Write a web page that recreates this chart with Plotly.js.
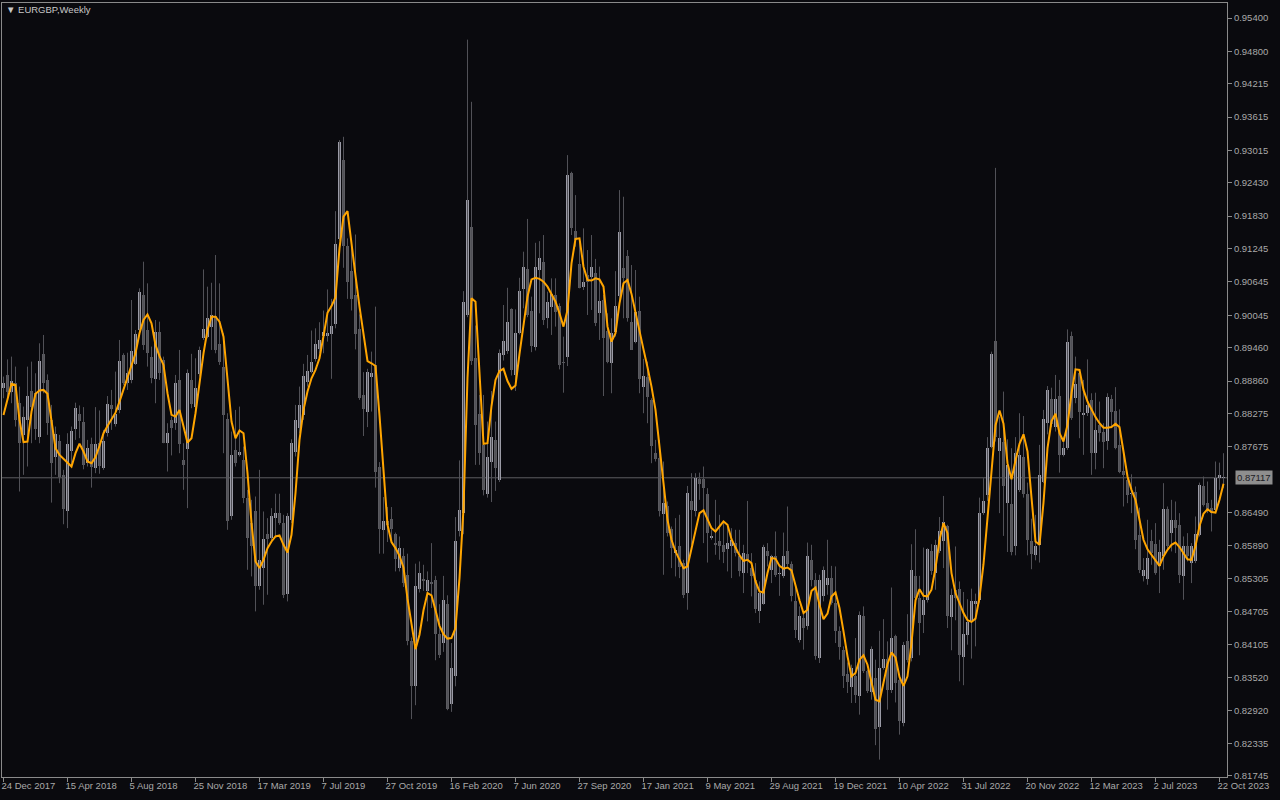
<!DOCTYPE html>
<html><head><meta charset="utf-8">
<script src="https://cdn.plot.ly/plotly-3.0.1.min.js"></script>
<style>html,body{margin:0;padding:0;background:#0a0a0e;overflow:hidden}#chart{width:1280px;height:800px}</style>
</head><body><div id="chart"></div>
<script>
const chartTitle = '\u25BC EURGBP,Weekly';
const firstWeek = '2017-12-24';

const open = [
0.8873,0.8897,0.8867,0.8882,0.8846,0.8789,0.8816,0.8868,0.8864,0.8786,
0.8935,0.8888,0.8816,0.8750,0.8778,0.8717,0.8651,0.8760,0.8800,0.8827,
0.8812,0.8738,0.8773,0.8730,0.8774,0.8730,0.8793,0.8843,0.8809,0.8833,
0.8933,0.8882,0.8887,0.8917,0.8978,0.9041,0.8978,0.8930,0.8890,0.8975,
0.8924,0.8775,0.8815,0.8810,0.8887,0.8743,0.8764,0.8888,0.8840,0.8899,
0.8964,0.8965,0.8984,0.9003,0.8953,0.8912,0.8818,0.8643,0.8762,0.8753,
0.8743,0.8675,0.8630,0.8651,0.8516,0.8549,0.8611,0.8603,0.8640,0.8648,
0.8630,0.8503,0.8636,0.8759,0.8801,0.8825,0.8885,0.8903,0.8925,0.8943,
0.8967,0.8967,0.8971,0.8988,0.9142,0.9285,0.9130,0.9084,0.9041,0.8980,
0.8860,0.8831,0.8894,0.8915,0.8731,0.8617,0.8634,0.8638,0.8610,0.8550,
0.8571,0.8536,0.8417,0.8337,0.8512,0.8529,0.8508,0.8524,0.8528,0.8430,
0.8414,0.8484,0.8304,0.8355,0.8616,0.8649,0.9005,0.9164,0.8927,0.8827,
0.8770,0.8683,0.8741,0.8780,0.8708,0.8933,0.8941,0.9015,0.8896,0.8972,
0.9052,0.9088,0.9012,0.8948,0.9086,0.9101,0.8999,0.9020,0.9041,0.9022,
0.8921,0.8929,0.9260,0.9156,0.9096,0.9056,0.9077,0.9074,0.9080,0.9008,
0.9032,0.8976,0.8919,0.8975,0.9039,0.9090,0.9111,0.8993,0.8957,0.9012,
0.8876,0.8894,0.8851,0.8756,0.8747,0.8646,0.8661,0.8619,0.8576,0.8588,
0.8558,0.8505,0.8669,0.8652,0.8710,0.8710,0.8683,0.8604,0.8595,0.8597,
0.8590,0.8583,0.8588,0.8594,0.8570,0.8541,0.8574,0.8550,0.8528,0.8471,
0.8485,0.8579,0.8546,0.8570,0.8538,0.8534,0.8579,0.8557,0.8489,0.8420,
0.8460,0.8445,0.8564,0.8528,0.8387,0.8498,0.8519,0.8532,0.8486,0.8436,
0.8402,0.8358,0.8335,0.8354,0.8318,0.8462,0.8363,0.8325,0.8351,0.8263,
0.8369,0.8385,0.8329,0.8426,0.8348,0.8270,0.8418,0.8387,0.8534,0.8495,
0.8465,0.8491,0.8580,0.8540,0.8579,0.8597,0.8624,0.8461,0.8509,0.8512,
0.8389,0.8429,0.8452,0.8485,0.8491,0.8648,0.8680,0.8768,0.8958,0.8760,
0.8777,0.8667,0.8665,0.8588,0.8689,0.8749,0.8683,0.8597,0.8573,0.8591,
0.8705,0.8811,0.8853,0.8804,0.8859,0.8753,0.8765,0.8967,0.8856,0.8900,
0.8825,0.8828,0.8851,0.8757,0.8807,0.8795,0.8778,0.8853,0.8832,0.8771,
0.8724,0.8708,0.8683,0.8687,0.8609,0.8534,0.8529,0.8597,0.8593,0.8552,
0.8570,0.8656,0.8612,0.8636,0.8627,0.8534,0.8588,0.8558,0.8561,0.8609,
0.8697,0.8666,0.8657,0.8654,0.8711,0.8711];

const high = [
0.8894,0.8925,0.8930,0.8912,0.8876,0.8840,0.8912,0.8921,0.8900,0.8954,
0.8969,0.8898,0.8843,0.8804,0.8789,0.8726,0.8792,0.8804,0.8847,0.8842,
0.8839,0.8780,0.8784,0.8839,0.8833,0.8798,0.8859,0.8870,0.8903,0.8960,
0.8936,0.8937,0.9032,0.8978,0.9053,0.9101,0.9062,0.8948,0.8996,0.8993,
0.8930,0.8810,0.8822,0.8897,0.8942,0.8774,0.8907,0.8935,0.8927,0.8948,
0.9087,0.9056,0.9063,0.9113,0.9062,0.8972,0.8828,0.8795,0.8834,0.8840,
0.8768,0.8690,0.8672,0.8678,0.8726,0.8651,0.8639,0.8657,0.8683,0.8683,
0.8645,0.8648,0.8781,0.8843,0.8876,0.8917,0.8933,0.8977,0.8981,0.8992,
0.9013,0.9051,0.9034,0.9192,0.9320,0.9326,0.9143,0.9136,0.9150,0.9006,
0.8902,0.8908,0.8939,0.9020,0.8740,0.8677,0.8659,0.8659,0.8613,0.8606,
0.8585,0.8575,0.8424,0.8557,0.8561,0.8555,0.8543,0.8594,0.8535,0.8484,
0.8535,0.8500,0.8414,0.8641,0.8743,0.9048,0.9501,0.9389,0.8986,0.8861,
0.8861,0.8813,0.8868,0.8813,0.8943,0.9023,0.9054,0.9017,0.9015,0.9072,
0.9119,0.9178,0.9038,0.9135,0.9138,0.9149,0.9047,0.9071,0.9071,0.9026,
0.8966,0.9293,0.9263,0.9221,0.9140,0.9161,0.9122,0.9149,0.9106,0.9092,
0.9041,0.9008,0.8999,0.9084,0.9230,0.9218,0.9122,0.9095,0.9086,0.9038,
0.8926,0.8921,0.8855,0.8780,0.8780,0.8741,0.8669,0.8624,0.8639,0.8645,
0.8564,0.8697,0.8720,0.8720,0.8721,0.8732,0.8693,0.8618,0.8672,0.8645,
0.8633,0.8624,0.8621,0.8618,0.8618,0.8591,0.8670,0.8576,0.8558,0.8525,
0.8591,0.8594,0.8573,0.8615,0.8555,0.8613,0.8660,0.8561,0.8519,0.8480,
0.8471,0.8595,0.8591,0.8540,0.8537,0.8552,0.8600,0.8553,0.8552,0.8444,
0.8408,0.8379,0.8375,0.8423,0.8471,0.8480,0.8366,0.8408,0.8384,0.8436,
0.8457,0.8417,0.8514,0.8429,0.8351,0.8416,0.8466,0.8592,0.8619,0.8535,
0.8586,0.8585,0.8592,0.8600,0.8641,0.8679,0.8627,0.8512,0.8588,0.8525,
0.8506,0.8493,0.8512,0.8503,0.8676,0.8711,0.8785,0.8939,0.9270,0.8822,
0.8867,0.8781,0.8765,0.8785,0.8828,0.8823,0.8703,0.8638,0.8645,0.8771,
0.8834,0.8877,0.8874,0.8897,0.8888,0.8786,0.8979,0.8975,0.8930,0.8907,
0.8888,0.8925,0.8864,0.8865,0.8849,0.8810,0.8864,0.8861,0.8875,0.8835,
0.8759,0.8720,0.8718,0.8696,0.8658,0.8567,0.8636,0.8618,0.8630,0.8600,
0.8702,0.8660,0.8672,0.8669,0.8648,0.8606,0.8612,0.8594,0.8642,0.8703,
0.8714,0.8705,0.8672,0.8741,0.8739,0.8756];

const low = [
0.8855,0.8852,0.8846,0.8804,0.8687,0.8717,0.8732,0.8774,0.8780,0.8774,
0.8864,0.8789,0.8667,0.8717,0.8702,0.8628,0.8621,0.8732,0.8780,0.8783,
0.8727,0.8732,0.8694,0.8720,0.8719,0.8726,0.8786,0.8798,0.8804,0.8828,
0.8879,0.8870,0.8882,0.8915,0.8975,0.8942,0.8912,0.8882,0.8846,0.8888,
0.8774,0.8723,0.8752,0.8798,0.8756,0.8690,0.8657,0.8837,0.8834,0.8894,
0.8960,0.8963,0.8942,0.8936,0.8915,0.8756,0.8618,0.8636,0.8732,0.8750,
0.8666,0.8546,0.8534,0.8471,0.8510,0.8483,0.8501,0.8597,0.8606,0.8627,
0.8495,0.8489,0.8630,0.8750,0.8792,0.8816,0.8876,0.8900,0.8921,0.8936,
0.8936,0.8957,0.8890,0.8981,0.9139,0.9090,0.9034,0.9013,0.8943,0.8852,
0.8787,0.8803,0.8831,0.8694,0.8575,0.8575,0.8596,0.8596,0.8543,0.8543,
0.8515,0.8410,0.8277,0.8302,0.8505,0.8508,0.8453,0.8477,0.8383,0.8387,
0.8398,0.8293,0.8290,0.8336,0.8606,0.8610,0.9001,0.8915,0.8735,0.8735,
0.8680,0.8676,0.8668,0.8688,0.8704,0.8923,0.8935,0.8896,0.8868,0.8970,
0.9017,0.9001,0.8938,0.8941,0.9008,0.8987,0.8981,0.8969,0.8984,0.8907,
0.8865,0.8913,0.9149,0.9128,0.9053,0.9050,0.9005,0.9014,0.8985,0.8960,
0.8859,0.8918,0.8864,0.8966,0.9020,0.8999,0.8993,0.8942,0.8954,0.8864,
0.8828,0.8810,0.8738,0.8741,0.8642,0.8537,0.8606,0.8549,0.8534,0.8531,
0.8495,0.8474,0.8591,0.8642,0.8672,0.8594,0.8559,0.8600,0.8573,0.8564,
0.8558,0.8543,0.8531,0.8570,0.8534,0.8504,0.8540,0.8498,0.8468,0.8450,
0.8483,0.8552,0.8522,0.8533,0.8499,0.8531,0.8552,0.8489,0.8423,0.8415,
0.8402,0.8438,0.8516,0.8384,0.8378,0.8489,0.8501,0.8483,0.8414,0.8384,
0.8333,0.8324,0.8306,0.8306,0.8285,0.8360,0.8324,0.8312,0.8230,0.8204,
0.8366,0.8294,0.8324,0.8307,0.8249,0.8264,0.8379,0.8381,0.8489,0.8392,
0.8432,0.8487,0.8537,0.8510,0.8576,0.8549,0.8441,0.8401,0.8455,0.8345,
0.8338,0.8411,0.8386,0.8408,0.8487,0.8645,0.8670,0.8765,0.8777,0.8648,
0.8607,0.8578,0.8572,0.8572,0.8686,0.8676,0.8572,0.8547,0.8563,0.8559,
0.8702,0.8790,0.8803,0.8795,0.8721,0.8750,0.8762,0.8816,0.8846,0.8783,
0.8753,0.8823,0.8717,0.8727,0.8777,0.8729,0.8762,0.8801,0.8763,0.8720,
0.8660,0.8666,0.8648,0.8583,0.8540,0.8525,0.8519,0.8555,0.8537,0.8504,
0.8546,0.8582,0.8579,0.8576,0.8522,0.8492,0.8561,0.8522,0.8558,0.8606,
0.8660,0.8648,0.8615,0.8648,0.8690,0.8693];

const close = [
0.8883,0.8867,0.8886,0.8815,0.8775,0.8822,0.8859,0.8839,0.8799,0.8923,
0.8882,0.8811,0.8739,0.8790,0.8713,0.8656,0.8772,0.8796,0.8838,0.8814,
0.8734,0.8765,0.8732,0.8773,0.8733,0.8778,0.8845,0.8835,0.8827,0.8922,
0.8882,0.8900,0.8940,0.8971,0.9047,0.8951,0.8937,0.8891,0.8975,0.8901,
0.8775,0.8792,0.8801,0.8883,0.8773,0.8734,0.8901,0.8845,0.8874,0.8942,
0.8979,0.8999,0.9005,0.8942,0.8921,0.8825,0.8634,0.8753,0.8739,0.8758,
0.8676,0.8604,0.8588,0.8516,0.8564,0.8602,0.8602,0.8642,0.8649,0.8630,
0.8501,0.8642,0.8775,0.8816,0.8843,0.8895,0.8904,0.8921,0.8953,0.8960,
0.8974,0.8973,0.8985,0.9132,0.9316,0.9129,0.9065,0.9034,0.8971,0.8855,
0.8836,0.8902,0.8901,0.8722,0.8620,0.8634,0.8627,0.8620,0.8566,0.8585,
0.8522,0.8417,0.8337,0.8517,0.8540,0.8526,0.8528,0.8520,0.8430,0.8393,
0.8491,0.8296,0.8369,0.8598,0.8653,0.9029,0.9213,0.8923,0.8806,0.8757,
0.8690,0.8749,0.8786,0.8730,0.8937,0.8958,0.8992,0.8906,0.8972,0.9048,
0.9091,0.9005,0.8950,0.9091,0.9108,0.8996,0.9028,0.9043,0.9011,0.8915,
0.8918,0.9257,0.9162,0.9140,0.9054,0.9065,0.9065,0.9092,0.8991,0.9030,
0.8963,0.8921,0.8972,0.9021,0.9155,0.9071,0.8999,0.8942,0.9011,0.8890,
0.8895,0.8858,0.8769,0.8746,0.8651,0.8667,0.8613,0.8585,0.8581,0.8551,
0.8501,0.8685,0.8654,0.8712,0.8701,0.8693,0.8613,0.8607,0.8590,0.8588,
0.8578,0.8595,0.8599,0.8576,0.8543,0.8577,0.8561,0.8535,0.8475,0.8505,
0.8587,0.8571,0.8571,0.8537,0.8541,0.8571,0.8557,0.8498,0.8437,0.8462,
0.8442,0.8571,0.8528,0.8390,0.8527,0.8546,0.8532,0.8487,0.8435,0.8406,
0.8355,0.8343,0.8369,0.8320,0.8465,0.8363,0.8327,0.8404,0.8259,0.8369,
0.8386,0.8330,0.8423,0.8342,0.8273,0.8411,0.8384,0.8546,0.8495,0.8451,
0.8492,0.8583,0.8544,0.8591,0.8615,0.8632,0.8462,0.8501,0.8496,0.8392,
0.8430,0.8452,0.8490,0.8490,0.8648,0.8670,0.8765,0.8934,0.8785,0.8784,
0.8697,0.8735,0.8578,0.8757,0.8752,0.8683,0.8599,0.8575,0.8588,0.8716,
0.8817,0.8870,0.8809,0.8853,0.8753,0.8766,0.8957,0.8819,0.8881,0.8831,
0.8829,0.8843,0.8757,0.8798,0.8793,0.8777,0.8858,0.8831,0.8766,0.8723,
0.8716,0.8680,0.8685,0.8599,0.8545,0.8546,0.8567,0.8576,0.8541,0.8578,
0.8656,0.8588,0.8636,0.8621,0.8537,0.8588,0.8570,0.8588,0.8611,0.8699,
0.8663,0.8654,0.8648,0.8711,0.8717,0.87117];

const smoothLine = [
0.8825,0.8855,0.8881,0.8879,0.8816,0.8776,0.8777,0.8831,0.8863,0.8869,
0.8870,0.8863,0.8816,0.8765,0.8753,0.8746,0.8738,0.8732,0.8756,0.8773,
0.8759,0.8741,0.8738,0.8749,0.8769,0.8792,0.8805,
0.8816,0.8829,0.8849,0.8870,0.8891,0.8915,0.8936,0.8972,0.8996,0.9006,
0.8990,0.8951,0.8931,0.8915,0.8864,0.8825,0.8822,0.8834,0.8807,0.8775,
0.8783,0.8828,0.8882,0.8936,0.8978,0.9002,
0.9002,0.8993,0.8966,0.8888,0.8813,0.8783,0.8797,0.8792,0.8720,0.8630,
0.8561,0.8549,0.8564,0.8585,0.8597,0.8606,0.8608,0.8591,0.8577,0.8609,
0.8684,0.8780,0.8834,0.8867,0.8891,0.8906,
0.8927,0.8967,0.9009,0.9021,0.9037,0.9125,0.9182,0.9192,0.9139,0.9076,
0.9020,0.8967,0.8922,0.8918,0.8913,0.8824,0.8719,0.8627,0.8596,0.8585,
0.8571,0.8550,0.8494,0.8452,0.8403,0.8429,0.8473,
0.8504,0.8500,0.8473,0.8445,0.8430,0.8422,0.8423,0.8441,0.8531,0.8657,
0.8892,0.9035,0.9029,0.8900,0.8773,0.8774,0.8841,0.8888,0.8904,0.8908,
0.8886,0.8872,0.8878,0.8935,0.8986,0.9038,
0.9069,0.9072,0.9070,0.9065,0.9056,0.9041,0.9029,0.9008,0.8984,0.9014,
0.9098,0.9142,0.9143,0.9092,0.9068,0.9067,0.9071,0.9069,0.9056,0.8984,
0.8957,0.8972,0.9026,0.9062,0.9068,0.9043,
0.9008,0.8973,0.8943,0.8911,0.8876,0.8834,0.8762,0.8702,0.8636,0.8600,
0.8579,0.8564,0.8549,0.8552,0.8585,0.8618,0.8648,0.8653,0.8636,0.8621,
0.8615,0.8624,0.8633,0.8627,0.8601,0.8586,0.8572,
0.8562,0.8564,0.8558,0.8525,0.8507,0.8505,0.8540,0.8567,0.8566,0.8553,
0.8548,0.8550,0.8545,0.8516,0.8491,0.8468,0.8474,0.8508,0.8514,0.8483,
0.8457,0.8467,0.8498,0.8505,0.8477,0.8435,
0.8390,0.8354,0.8360,0.8384,0.8392,0.8375,0.8342,0.8312,0.8309,0.8341,
0.8376,0.8397,0.8388,0.8353,0.8337,0.8354,0.8414,0.8491,0.8511,0.8499,
0.8498,0.8510,0.8549,0.8600,0.8630,0.8612,
0.8540,0.8504,0.8485,0.8468,0.8455,0.8452,0.8458,0.8496,0.8556,0.8642,
0.8727,0.8806,0.8833,0.8809,0.8738,0.8709,0.8743,0.8773,0.8790,0.8759,
0.8676,0.8597,0.8591,0.8667,0.8765,0.8814,
0.8827,0.8792,0.8777,0.8807,0.8864,0.8907,0.8906,0.8870,0.8849,0.8834,
0.8821,0.8810,0.8802,0.8802,0.8803,0.8809,0.8803,0.8759,0.8714,0.8690,
0.8672,0.8636,0.8600,0.8583,0.8573,0.8562,0.8553,
0.8570,0.8582,0.8591,0.8595,0.8587,0.8575,0.8565,0.8564,0.8589,0.8625,
0.8647,0.8655,0.8650,0.8649,0.8672,0.8701];

const xTickDates = ['2017-12-24','2018-04-15','2018-08-05','2018-11-25','2019-03-17','2019-07-07',
  '2019-10-27','2020-02-16','2020-06-07','2020-09-27','2021-01-17','2021-05-09','2021-08-29',
  '2021-12-19','2022-04-10','2022-07-31','2022-11-20','2023-03-12','2023-07-02','2023-10-22'];
const xTickLabels = ['24 Dec 2017','15 Apr 2018','5 Aug 2018','25 Nov 2018','17 Mar 2019','7 Jul 2019',
  '27 Oct 2019','16 Feb 2020','7 Jun 2020','27 Sep 2020','17 Jan 2021','9 May 2021','29 Aug 2021',
  '19 Dec 2021','10 Apr 2022','31 Jul 2022','20 Nov 2022','12 Mar 2023','2 Jul 2023','22 Oct 2023'];
const yTickValues = [0.95400,0.94800,0.94215,0.93615,0.93015,0.92430,0.91830,0.91245,0.90645,0.90045,
  0.89460,0.88860,0.88275,0.87675,0.86490,0.85890,0.85305,0.84705,0.84105,0.83520,0.82920,0.82335,0.81745];
const yTickLabels = ['0.95400','0.94800','0.94215','0.93615','0.93015','0.92430','0.91830','0.91245','0.90645','0.90045',
  '0.89460','0.88860','0.88275','0.87675','0.86490','0.85890','0.85305','0.84705','0.84105','0.83520','0.82920','0.82335','0.81745'];
const bidPrice = 0.87117;
const bidLabel = '0.87117';

// ---- build ----
const DAY = 86400000, WEEK = 7 * DAY;
const t0 = Date.parse(firstWeek + 'T00:00:00Z');
const toStr = ms => new Date(ms).toISOString().replace('T', ' ').replace('Z', '');
const dates = open.map((_, i) => toStr(t0 + i * WEEK));

const BG = '#0a0a0e';
const BULL = '#9b9ba6';
const BEAR = '#5b5b60';
const WICK = '#515157';
const FRAME = '#8a8a8a';
const TXT = '#a9a9a9';
const FONT = 'Liberation Sans, Arial, sans-serif';

const wx = [], wy = [];
dates.forEach((d, i) => { wx.push(d, d, null); wy.push(low[i], high[i], null); });

const minBody = 0.00018;
const bodyBase = open.map((o, i) => Math.min(o, close[i]));
const bodyLen = open.map((o, i) => Math.max(Math.abs(close[i] - o), minBody));
const bodyCol = open.map((o, i) => close[i] >= o ? BULL : BEAR);

const traces = [
  { type: 'scatter', mode: 'lines', x: wx, y: wy, line: { color: WICK, width: 1 }, hoverinfo: 'skip', showlegend: false },
  { type: 'bar', x: dates, y: bodyLen, base: bodyBase, width: 0.75 * WEEK,
    marker: { color: bodyCol, line: { width: 0 } }, hoverinfo: 'skip', showlegend: false },
  { type: 'scatter', mode: 'lines', x: dates, y: smoothLine, line: { color: '#ffa500', width: 2 },
    hoverinfo: 'skip', showlegend: false }
];

const layout = {
  width: 1280, height: 800,
  paper_bgcolor: BG, plot_bgcolor: BG,
  margin: { l: 2, r: 53, t: 3, b: 23, pad: 0 },
  showlegend: false,
  bargap: 0,
  title: { text: chartTitle, x: 6 / 1280, xref: 'container', xanchor: 'left',
           y: 1 - 10 / 800, yref: 'container', yanchor: 'middle',
           font: { family: FONT, size: 9.5, color: '#c8c8c8' } },
  xaxis: {
    type: 'date',
    range: [toStr(t0 - 0.375 * WEEK), toStr(t0 + 305.875 * WEEK)],
    tickmode: 'array', tickvals: xTickDates, ticktext: xTickLabels,
    ticks: 'outside', ticklen: 4, tickcolor: FRAME, tickwidth: 1,
    ticklabelposition: 'outside right', ticklabelshift: -3,
    showline: true, linecolor: FRAME, linewidth: 1, mirror: true,
    showgrid: false, zeroline: false, fixedrange: true,
    tickfont: { family: FONT, size: 9.5, color: TXT }
  },
  yaxis: {
    side: 'right',
    range: [0.817268, 0.956702],
    tickmode: 'array', tickvals: yTickValues, ticktext: yTickLabels,
    ticks: 'outside', ticklen: 4, tickcolor: FRAME, tickwidth: 1,
    showline: true, linecolor: FRAME, linewidth: 1, mirror: true,
    showgrid: false, zeroline: false, fixedrange: true,
    tickfont: { family: FONT, size: 9.5, color: TXT }
  },
  shapes: [
    { type: 'line', xref: 'paper', x0: 0, x1: 1, yref: 'y', y0: bidPrice, y1: bidPrice,
      line: { color: '#5e5e62', width: 1 }, layer: 'below' }
  ],
  annotations: [
    { xref: 'paper', x: 1, xanchor: 'left', xshift: 8, yref: 'y', y: bidPrice, yanchor: 'middle',
      text: bidLabel, showarrow: false, bgcolor: '#8e8e8e', borderpad: 1,
      font: { family: FONT, size: 9.5, color: '#1c1c24' } }
  ]
};

Plotly.newPlot('chart', traces, layout, { staticPlot: true, displayModeBar: false });
</script>
</body></html>
